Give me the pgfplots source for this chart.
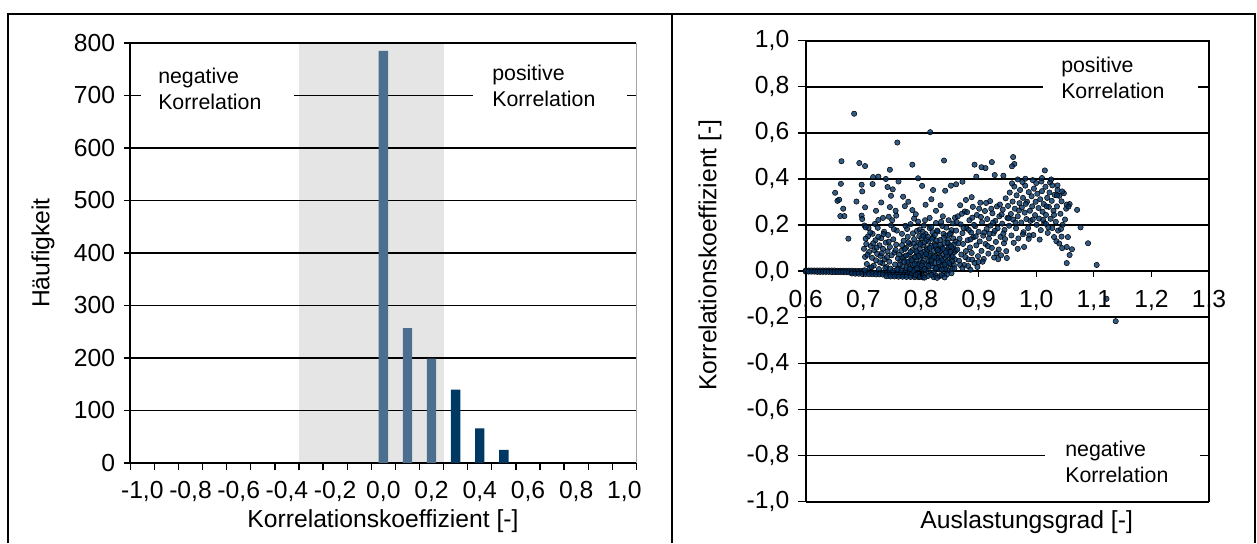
\documentclass[border=0pt]{standalone}
\usepackage{fontspec}
\setmainfont{Liberation Sans}
\usepackage{pgfplots}
\pgfplotsset{compat=1.18}
\definecolor{navy}{RGB}{0,51,102}
\definecolor{barnavy}{RGB}{0,56,100}
\definecolor{barslate}{RGB}{76,110,143}
\begin{document}
\fontsize{18.5}{22}\selectfont
\begin{tikzpicture}
% ---------------- left: histogram ----------------
\begin{axis}[
  at={(97.7pt,60pt)}, anchor=south west,
  scale only axis, width=379.6pt, height=315pt,
  xmin=-1.05, xmax=1.05, ymin=0, ymax=800,
  axis x line*=bottom, axis y line*=left,
  axis line style={-, line width=1.2pt, black},
  tick style={line width=1pt, black},
  tick align=outside,
  major tick length=5pt,
  ytick={0,100,200,300,400,500,600,700,800},
  yticklabels={0,100,200,300,400,500,600,700,800},
  ymajorgrids, grid style={line width=1.3pt, black},
  xtick={-1.05,-0.95,-0.85,-0.75,-0.65,-0.55,-0.45,-0.35,-0.25,-0.15,-0.05,0.05,0.15,0.25,0.35,0.45,0.55,0.65,0.75,0.85,0.95,1.05},
  xticklabels={,,},
  extra x ticks={-1,-0.8,-0.6,-0.4,-0.2,0,0.2,0.4,0.6,0.8,1},
  extra x tick labels={{-1,0},{-0,8},{-0,6},{-0,4},{-0,2},{0,0},{0,2},{0,4},{0,6},{0,8},{1,0}},
  extra x tick style={major tick length=0pt, xticklabel style={yshift=-7pt}},
  ticklabel style={font=\fontsize{18.5}{22}\selectfont},
]
\addplot[draw=none, fill=black, fill opacity=0.1] coordinates {(-0.35,800) (0.25,800)} \closedcycle;
\addplot[ybar, bar width=7pt, fill=barslate, draw=none] coordinates {(0,785) (0.1,257) (0.2,199)};
\addplot[ybar, bar width=7pt, fill=barnavy, draw=none] coordinates {(0.3,140) (0.4,66) (0.5,25)};
\draw[line width=1.2pt, black] (rel axis cs:1,0) -- (rel axis cs:1,1);
\fill[white] (axis cs:-1.006,660) rectangle (axis cs:-0.371,760);
\fill[white] (axis cs:0.372,660) rectangle (axis cs:1.01,760);
\node[anchor=north west, align=left, inner sep=0pt, font=\fontsize{16}{19.5}\selectfont] at (axis cs:-0.935,752) {negative\\Korrelation};
\node[anchor=north west, align=left, inner sep=0pt, font=\fontsize{16}{19.5}\selectfont] at (axis cs:0.451,758) {positive\\Korrelation};
\end{axis}
\node[rotate=90] at (32.25pt,217.5pt) {Häufigkeit};
\node[anchor=base] at (287.25pt,12pt) {Korrelationskoeffizient [-]};
% ---------------- right: scatter ----------------
\begin{axis}[
  at={(604.3pt,31pt)}, anchor=south west,
  scale only axis, width=302.5pt, height=345.75pt,
  xmin=0.6, xmax=1.3, ymin=-1, ymax=1,
  axis line style={line width=1.2pt, black},
  tick style={line width=1pt, black},
  tick align=outside, major tick length=6pt, ytick pos=left,
  xtick=\empty,
  ytick={-1,-0.8,-0.6,-0.4,-0.2,0,0.2,0.4,0.6,0.8,1},
  yticklabels={{-1,0},{-0,8},{-0,6},{-0,4},{-0,2},{0,0},{0,2},{0,4},{0,6},{0,8},{1,0}},
  ymajorgrids, grid style={line width=1.3pt, black},
  ticklabel style={font=\fontsize{18.5}{22}\selectfont},
]
\addplot[only marks, mark=*, mark size=2pt, mark options={draw=none, fill=navy, fill opacity=0.8}] coordinates {
(0.600,0.003)(0.605,0.003)(0.610,0.003)(0.615,0.003)(0.620,0.003)(0.625,0.003)(0.630,0.003)(0.635,0.003)(0.640,0.003)(0.645,0.003)(0.650,0.003)(0.655,0.002)(0.660,0.002)(0.665,0.002)(0.670,0.002)(0.675,0.002)(0.680,0.002)(0.685,0.001)(0.690,0.001)(0.695,0.001)(0.700,0.001)
(0.600,-0.002)(0.605,-0.002)(0.610,-0.002)(0.615,-0.002)(0.620,-0.003)(0.625,-0.003)(0.630,-0.003)(0.635,-0.003)(0.640,-0.003)(0.645,-0.004)(0.650,-0.004)(0.655,-0.004)(0.660,-0.004)(0.665,-0.004)(0.670,-0.005)(0.675,-0.005)(0.680,-0.005)(0.685,-0.005)(0.690,-0.005)(0.695,-0.006)(0.700,-0.006)(0.705,-0.006)(0.710,-0.006)(0.715,-0.006)(0.720,-0.007)(0.725,-0.007)(0.730,-0.007)(0.735,-0.007)(0.740,-0.007)(0.745,-0.008)(0.750,-0.008)(0.755,-0.008)(0.760,-0.008)(0.765,-0.008)(0.770,-0.009)(0.775,-0.009)(0.780,-0.009)(0.785,-0.009)(0.790,-0.009)(0.795,-0.010)(0.800,-0.010)
(0.680,-0.010)(0.686,-0.011)(0.692,-0.011)(0.698,-0.012)(0.704,-0.012)(0.710,-0.013)(0.716,-0.013)(0.722,-0.014)(0.728,-0.014)(0.734,-0.015)(0.740,-0.015)(0.746,-0.016)(0.752,-0.016)(0.758,-0.017)(0.764,-0.017)(0.770,-0.018)(0.776,-0.018)(0.782,-0.019)(0.788,-0.019)(0.794,-0.020)(0.800,-0.020)
(0.740,-0.022)(0.747,-0.023)(0.754,-0.023)(0.761,-0.024)(0.768,-0.024)(0.775,-0.025)(0.782,-0.025)(0.789,-0.026)(0.796,-0.026)(0.803,-0.027)
(0.761,0.012)(0.764,0.045)(0.766,0.088)(0.768,0.021)(0.770,0.132)(0.771,0.064)(0.773,0.005)(0.774,0.101)(0.776,0.038)(0.777,0.149)(0.779,0.072)(0.780,0.017)(0.781,0.118)(0.783,0.052)(0.784,-0.008)(0.785,0.091)(0.786,0.026)(0.788,0.139)(0.789,0.061)(0.790,0.008)(0.791,0.107)(0.792,0.043)(0.793,0.175)(0.794,0.079)(0.795,-0.012)(0.796,0.124)(0.797,0.033)(0.798,0.095)(0.799,0.058)(0.800,0.014)
(0.801,0.143)(0.802,0.069)(0.803,0.002)(0.804,0.112)(0.805,0.047)(0.806,0.084)(0.807,-0.015)(0.808,0.161)(0.809,0.029)(0.810,0.099)(0.811,0.063)(0.812,0.011)(0.813,0.128)(0.814,0.041)(0.815,0.187)(0.816,0.076)(0.817,-0.006)(0.818,0.109)(0.819,0.053)(0.820,0.022)(0.821,0.146)(0.822,0.087)(0.823,0.035)(0.824,0.119)(0.825,-0.018)(0.826,0.066)(0.827,0.098)(0.828,0.015)(0.829,0.172)(0.830,0.049)
(0.831,0.081)(0.832,0.007)(0.833,0.135)(0.834,0.058)(0.835,0.024)(0.836,0.104)(0.837,0.196)(0.838,0.039)(0.839,0.072)(0.840,-0.011)(0.841,0.121)(0.842,0.056)(0.843,0.155)(0.844,0.018)(0.845,0.092)(0.846,0.044)(0.847,0.137)(0.848,0.003)(0.849,0.075)(0.850,0.113)(0.851,0.031)(0.852,0.165)(0.853,0.061)(0.854,0.009)(0.855,0.097)(0.856,0.142)(0.857,0.027)(0.858,0.083)(0.859,0.051)(0.860,0.128)
(0.762,0.071)(0.765,0.003)(0.769,0.056)(0.772,0.096)(0.775,0.014)(0.778,0.041)(0.782,0.083)(0.787,0.002)(0.790,0.061)(0.794,0.028)(0.797,0.152)(0.800,0.078)(0.803,0.036)(0.806,0.125)(0.808,0.004)(0.811,0.092)(0.814,0.068)(0.817,0.034)(0.819,0.141)(0.822,-0.004)(0.825,0.111)(0.828,0.057)(0.830,0.018)(0.833,0.088)(0.836,0.047)(0.839,0.162)(0.842,0.009)(0.845,0.067)(0.848,0.104)(0.851,0.084)(0.854,0.043)(0.857,0.115)
(0.812,-0.021)(0.822,-0.026)(0.802,-0.019)(0.832,-0.022)(0.845,-0.014)(0.815,0.231)(0.826,0.209)(0.805,0.198)(0.795,0.215)(0.788,0.228)(0.838,0.238)(0.848,0.221)(0.856,0.207)
(0.763,0.029)(0.767,0.113)(0.771,0.041)(0.774,0.068)(0.778,0.125)(0.781,0.009)(0.784,0.047)(0.786,0.164)(0.789,0.031)(0.792,0.085)(0.793,0.012)(0.796,0.066)(0.799,0.118)(0.801,0.025)(0.804,0.154)(0.806,0.009)(0.809,0.074)(0.810,0.136)(0.813,0.023)(0.815,0.101)
(0.818,0.046)(0.820,0.169)(0.823,0.061)(0.826,0.013)(0.827,0.133)(0.829,0.091)(0.831,0.039)(0.834,0.114)(0.836,0.007)(0.838,0.097)(0.841,0.028)(0.843,0.081)(0.846,0.124)(0.849,0.036)(0.852,0.108)(0.855,0.064)(0.858,0.012)(0.860,0.089)
(0.776,0.183)(0.782,0.204)(0.798,0.181)(0.807,0.221)(0.818,0.192)(0.828,0.176)(0.835,0.214)(0.844,0.189)(0.853,0.178)(0.859,0.232)
(0.767,0.162)(0.773,0.197)(0.787,0.119)(0.803,0.171)(0.812,0.149)(0.824,0.157)(0.840,0.145)(0.850,0.161)
(0.791,-0.017)(0.798,-0.024)(0.806,-0.028)(0.818,-0.016)(0.828,-0.029)(0.836,-0.017)(0.841,-0.027)(0.853,-0.009)
(0.701,0.097)(0.703,0.062)(0.705,0.118)(0.706,0.031)(0.708,0.151)(0.710,0.083)(0.711,0.013)(0.713,0.109)(0.715,0.058)(0.716,0.162)(0.718,0.024)(0.719,0.091)(0.721,0.134)(0.722,0.047)(0.724,0.075)(0.725,0.188)(0.727,0.009)(0.728,0.112)(0.730,0.066)(0.731,0.143)
(0.733,0.035)(0.734,0.097)(0.736,0.171)(0.737,0.052)(0.739,0.124)(0.740,0.018)(0.742,0.086)(0.743,0.157)(0.745,0.041)(0.746,0.105)(0.748,0.199)(0.749,0.069)(0.751,0.003)(0.752,0.138)(0.754,0.081)(0.755,0.029)(0.757,0.115)(0.758,0.176)(0.760,0.055)(0.704,0.141)
(0.709,0.187)(0.714,0.017)(0.720,0.205)(0.726,0.149)(0.732,0.078)(0.738,0.013)(0.744,0.128)(0.750,0.221)(0.756,0.092)(0.759,0.007)(0.717,0.121)(0.723,0.102)(0.729,0.038)(0.735,0.161)(0.741,0.061)(0.747,0.011)(0.753,0.182)(0.702,0.004)(0.707,0.071)(0.712,0.168)(0.734,0.231)(0.744,0.236)(0.757,0.241)(0.726,0.222)
(0.861,0.176)(0.863,0.094)(0.864,0.238)(0.866,0.045)(0.867,0.141)(0.869,0.203)(0.870,0.072)(0.872,0.165)(0.873,0.118)(0.875,0.027)(0.876,0.259)(0.878,0.087)(0.879,0.186)(0.881,0.134)(0.882,0.051)(0.884,0.221)(0.885,0.103)(0.887,0.168)(0.888,0.079)(0.890,0.279)
(0.891,0.147)(0.893,0.036)(0.894,0.195)(0.896,0.112)(0.897,0.244)(0.899,0.065)(0.900,0.171)(0.902,0.129)(0.903,0.297)(0.905,0.088)(0.906,0.212)(0.908,0.154)(0.909,0.053)(0.911,0.261)(0.912,0.118)(0.914,0.183)(0.915,0.226)(0.917,0.076)(0.918,0.142)(0.920,0.304)
(0.921,0.198)(0.923,0.101)(0.924,0.251)(0.926,0.164)(0.927,0.059)(0.929,0.218)(0.930,0.127)(0.932,0.281)(0.933,0.186)(0.935,0.094)(0.936,0.238)(0.938,0.149)(0.939,0.069)(0.941,0.206)(0.942,0.267)(0.944,0.121)(0.945,0.179)(0.947,0.316)(0.948,0.087)(0.950,0.231)
(0.862,0.213)(0.868,0.027)(0.874,0.187)(0.880,0.256)(0.886,0.138)(0.892,0.201)(0.898,0.018)(0.904,0.235)(0.910,0.168)(0.916,0.109)(0.922,0.271)(0.928,0.175)(0.934,0.052)(0.940,0.246)(0.946,0.139)
(0.865,0.121)(0.871,0.249)(0.877,0.061)(0.883,0.179)(0.889,0.232)(0.895,0.151)(0.901,0.271)(0.907,0.041)(0.913,0.296)(0.919,0.163)(0.925,0.211)(0.931,0.078)(0.937,0.289)(0.943,0.163)(0.949,0.057)(0.868,0.286)(0.878,0.309)(0.888,0.321)(0.872,0.013)(0.882,0.022)
(0.951,0.283)(0.953,0.197)(0.954,0.341)(0.956,0.248)(0.957,0.155)(0.959,0.302)(0.960,0.224)(0.962,0.367)(0.963,0.271)(0.965,0.186)(0.966,0.329)(0.968,0.238)(0.969,0.142)(0.971,0.295)(0.972,0.352)(0.974,0.211)(0.975,0.276)(0.977,0.318)(0.978,0.169)(0.980,0.254)
(0.981,0.371)(0.983,0.226)(0.984,0.301)(0.986,0.187)(0.987,0.343)(0.989,0.262)(0.990,0.218)(0.992,0.325)(0.993,0.281)(0.995,0.157)(0.996,0.358)(0.998,0.243)(0.999,0.301)(1.001,0.201)(1.002,0.336)(1.004,0.274)(1.005,0.228)(1.007,0.312)(1.008,0.178)(1.010,0.347)
(1.011,0.258)(1.013,0.291)(1.014,0.209)(1.016,0.366)(1.017,0.244)(1.019,0.318)(1.020,0.166)(1.022,0.279)(1.023,0.341)(1.025,0.227)(1.027,0.305)(1.028,0.187)(1.030,0.262)(1.032,0.331)(1.034,0.214)(1.036,0.281)(1.038,0.176)(1.040,0.327)(1.042,0.249)(1.044,0.303)
(1.046,0.201)(1.048,0.338)(1.050,0.224)(1.052,0.271)(1.055,0.148)(1.058,0.291)(0.952,0.229)(0.958,0.381)(0.964,0.211)(0.970,0.263)(0.976,0.387)(0.982,0.292)(0.988,0.155)(0.994,0.224)(1.000,0.382)(1.006,0.137)(1.012,0.222)(1.018,0.281)(1.024,0.385)(1.031,0.148)
(1.037,0.352)(1.043,0.183)(0.961,0.123)(0.979,0.105)
(0.651,0.340)(0.655,0.305)(0.658,0.310)(0.661,0.379)(0.665,0.271)(0.660,0.239)(0.667,0.239)(0.674,0.141)(0.697,0.375)(0.698,0.346)(0.697,0.241)(0.698,0.226)(0.702,0.198)(0.704,0.190)(0.717,0.408)(0.726,0.410)(0.739,0.400)(0.703,0.277)(0.716,0.378)(0.742,0.365)
(0.751,0.355)(0.748,0.327)(0.761,0.389)(0.746,0.278)(0.769,0.323)(0.795,0.403)(0.802,0.370)(0.821,0.352)(0.842,0.349)(0.852,0.371)(0.861,0.377)(0.872,0.388)(0.896,0.410)(0.905,0.451)(0.928,0.417)(0.943,0.414)(0.968,0.398)(0.981,0.401)(0.994,0.395)(1.009,0.389)
(1.010,0.404)(1.026,0.398)(1.028,0.372)(1.037,0.372)(1.045,0.346)(1.036,0.329)(1.053,0.289)(1.056,0.280)(1.071,0.266)(1.077,0.190)(1.090,0.121)(1.105,0.027)(1.053,0.035)(1.122,-0.120)(1.138,-0.217)(1.035,0.130)(1.040,0.120)(1.045,0.100)(1.031,0.244)(1.017,0.205)
(1.021,0.190)(1.053,0.105)(1.058,0.070)(1.062,0.095)(1.044,0.150)(0.968,0.097)(0.987,0.140)(0.977,0.160)(0.900,0.040)(0.889,0.050)(0.886,0.006)(0.684,0.683)(0.816,0.603)(0.759,0.558)(0.662,0.477)(0.693,0.469)(0.703,0.456)(0.746,0.440)(0.785,0.462)(0.840,0.480)
(0.893,0.462)(0.912,0.447)(0.923,0.473)(0.960,0.495)(0.962,0.465)(0.958,0.455)(1.015,0.437)(0.772,0.282)(0.785,0.265)(0.778,0.301)(0.808,0.288)(0.826,0.262)(0.791,0.247)(0.818,0.312)(0.834,0.286)(0.756,0.262)(0.731,0.298)(0.722,0.262)(0.688,0.302)
};
\fill[white] (axis cs:1.012,0.689) rectangle (axis cs:1.281,0.914);
\fill[white] (axis cs:1.015,-0.713) rectangle (axis cs:1.284,-0.90);
\node[anchor=north west, align=left, inner sep=0pt, font=\fontsize{16}{19.5}\selectfont] at (axis cs:1.043,0.93) {positive\\Korrelation};
\node[anchor=north west, align=left, inner sep=0pt, font=\fontsize{16}{19.5}\selectfont] at (axis cs:1.050,-0.735) {negative\\Korrelation};
\end{axis}
% x ticks on the zero line of the scatter
\begin{axis}[
  at={(604.3pt,204.2pt)}, anchor=south west,
  scale only axis, width=302.5pt, height=1pt,
  xmin=0.6, xmax=1.3, ymin=0, ymax=1,
  axis x line*=bottom, axis y line=none,
  x axis line style={draw=none},
  tick style={line width=1pt, black},
  tick align=outside, major tick length=4.5pt,
  xtick={0.6,0.7,0.8,0.9,1.0,1.1,1.2,1.3},
  xticklabels={{0,6},{0,7},{0,8},{0,9},{1,0},{1,1},{1,2},{1,3}},
  ytick=\empty,
  ticklabel style={font=\fontsize{18.5}{22}\selectfont},
  xticklabel style={yshift=-4pt},
]
\end{axis}
\node[rotate=90] at (532.5pt,216pt) {Korrelationskoeffizient [-]};
\node[anchor=base] at (770pt,11.25pt) {Auslastungsgrad [-]};
% outer frame
\draw[line width=1.5pt] (6pt,0pt) -- (6pt,396.75pt) -- (941.25pt,396.75pt) -- (941.25pt,0pt);
\draw[line width=1.5pt] (504pt,0pt) -- (504pt,396.75pt);
\pgfresetboundingbox
\path[use as bounding box] (0pt,0pt) rectangle (942.75pt,407.25pt);
\end{tikzpicture}
\end{document}
